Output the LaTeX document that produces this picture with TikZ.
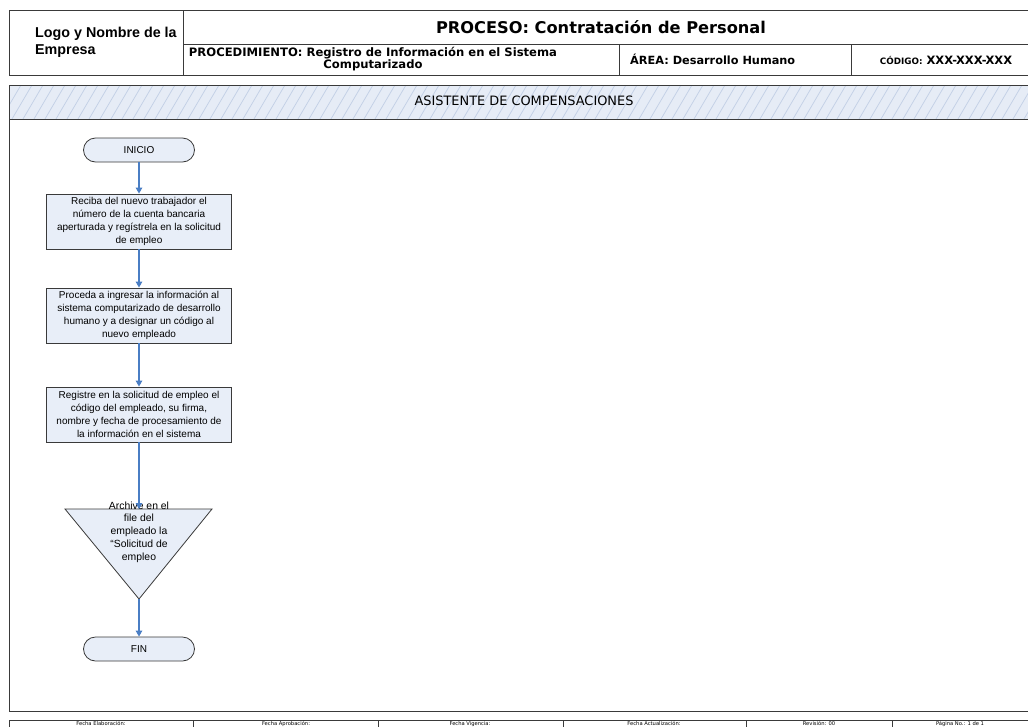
\documentclass[tikz,border=0pt]{standalone}
\usepackage{fontspec}
\setmainfont{Liberation Sans}
\newfontfamily\dv{DejaVu Sans}
\usetikzlibrary{arrows.meta}
\definecolor{boxfill}{HTML}{E8EEF8}
\definecolor{boxline}{HTML}{3A3A3A}
\definecolor{arrowblue}{HTML}{4A7EC4}
\definecolor{hatchbg}{HTML}{E6ECF6}
\definecolor{hatchline}{HTML}{C3D0E6}
\tikzset{
  frame/.style={draw=boxline, line width=0.9pt},
  procbox/.style={draw=boxline, fill=boxfill, line width=0.8pt, minimum width=184.5pt, minimum height=55pt, align=center, inner sep=1pt, font=\fontsize{10}{12.8}\selectfont},
  term/.style={draw=boxline, fill=boxfill, line width=0.8pt, minimum width=111pt, minimum height=24pt, rounded corners=12pt, font=\fontsize{10}{12}\selectfont},
  flow/.style={draw=arrowblue, line width=1.2pt, -{Triangle[length=6pt,width=6.5pt]}},
  foot/.style={font=\dv\fontsize{5.2}{6}\selectfont, inner sep=0pt, anchor=base}
}
\begin{document}
\begin{tikzpicture}[x=1pt,y=-1pt]
\useasboundingbox (0,0) rectangle (1028,726);
\fill[white] (0,0) rectangle (1028,726);
\begin{scope}
\clip (0,0) rectangle (1028,726);
% header
\draw[frame] (1040,10.7) -- (9.5,10.7) -- (9.5,75) -- (1040,75);
\draw[frame] (183,10.7) -- (183,75);
\draw[frame] (183,44.5) -- (1040,44.5);
\draw[frame] (619,44.5) -- (619,75);
\draw[frame] (851,44.5) -- (851,75);
% swimlane
\begin{scope}
\clip (9.5,85) rectangle (1040,119);
\fill[hatchbg] (9.5,85) rectangle (1040,119);
\foreach \i in {0,...,100} {
  \draw[hatchline, line width=0.75pt] ({-10+\i*11},119) -- ({10+\i*11},85);
}
\end{scope}
\draw[frame] (1040,85) -- (9.5,85) -- (9.5,711) -- (1040,711);
\draw[frame] (9.5,119) -- (1040,119);
% footer
\draw[frame, line width=0.7pt] (9.5,730) -- (9.5,720) -- (1040,720);
\foreach \xx in {193,378,563,746,892} {
  \draw[frame, line width=0.7pt] (\xx,720) -- (\xx,730);
}
\end{scope}

% header texts
\node[anchor=west, align=left, font=\bfseries\fontsize{14.3}{17}\selectfont, inner sep=0pt] (logo) at (35,42) {Logo y Nombre de la\\Empresa};
\node[font=\dv\bfseries\fontsize{16.2}{19}\selectfont, inner sep=0pt] (proceso) at (601,27) {PROCESO: Contratación de Personal};
\node[font=\dv\bfseries\fontsize{11.6}{12}\selectfont, align=center, inner sep=0pt] (proc) at (373,59.5) {PROCEDIMIENTO: Registro de Información en el Sistema\\Computarizado};
\node[anchor=west, font=\dv\bfseries\fontsize{11.3}{13}\selectfont, inner sep=0pt] (area) at (630,59) {ÁREA: Desarrollo Humano};
\node[font=\dv\bfseries\fontsize{11.5}{13}\selectfont, inner sep=0pt] (codigo) at (946,60) {{\fontsize{8.8}{10}\selectfont CÓDIGO:} XXX-XXX-XXX};
\node[font=\dv\fontsize{12.9}{15}\selectfont, inner sep=0pt] (lane) at (524,101) {ASISTENTE DE COMPENSACIONES};

% footer texts
\node[foot] (f1) at (101,725) {Fecha Elaboración:};
\node[foot] (f2) at (286,725) {Fecha Aprobación:};
\node[foot] (f3) at (470,725) {Fecha Vigencia:};
\node[foot] (f4) at (654,725) {Fecha Actualización:};
\node[foot] (f5) at (819,725) {Revisión: 00};
\node[foot] (f6) at (960,725) {Página No.: 1 de 1};

% flowchart
\node[term] (inicio) at (139,150) {INICIO};
\node[procbox] (b1) at (139,221.5) {Reciba del nuevo trabajador el\\número de la cuenta bancaria\\aperturada y regístrela en la solicitud\\de empleo};
\node[procbox] (b2) at (139,315.5) {Proceda a ingresar la información al\\sistema computarizado de desarrollo\\humano y a designar un código al\\nuevo empleado};
\node[procbox] (b3) at (139,414.5) {Registre en la solicitud de empleo el\\código del empleado, su firma,\\nombre y fecha de procesamiento de\\la información en el sistema};
\coordinate (tl) at (65,509);
\coordinate (tr) at (212,509);
\coordinate (ta) at (139,599);
\coordinate (ttop) at (139,509);
\draw[draw=boxline, fill=boxfill, line width=0.8pt] (tl) -- (tr) -- (ta) -- cycle;
\node[align=center, font=\fontsize{10.4}{12.7}\selectfont, inner sep=0pt] (archive) at (139,532) {Archive en el\\file del\\empleado la\\“Solicitud de\\empleo};
\node[term] (fin) at (139,649) {FIN};

\draw[flow] (inicio.south) -- (b1.north);
\draw[flow] (b1.south) -- (b2.north);
\draw[flow] (b2.south) -- (b3.north);
\draw[flow] (b3.south) -- (ttop);
\draw[flow] (ta) -- (fin.north);
\end{tikzpicture}
\end{document}
